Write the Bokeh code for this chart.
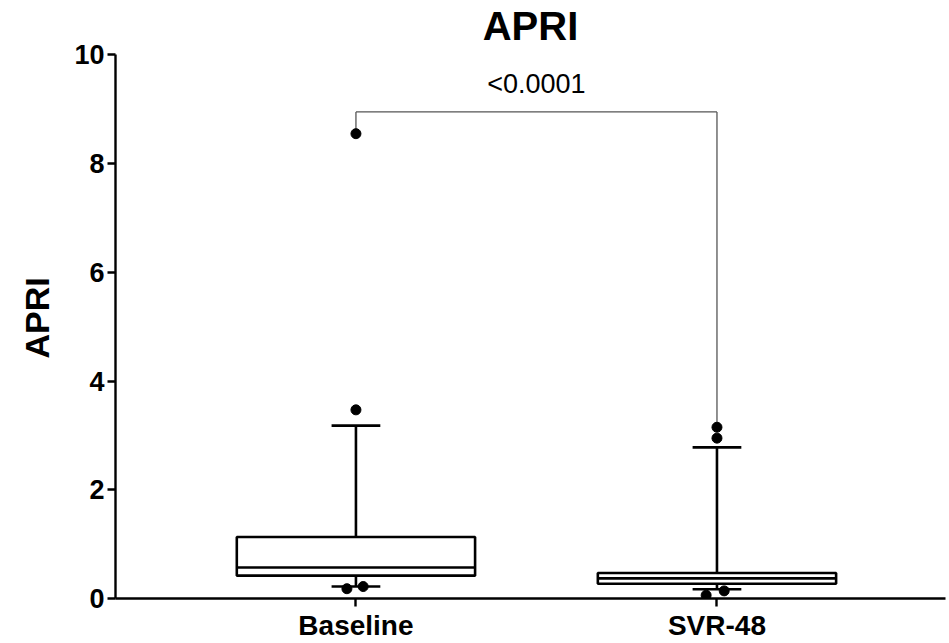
from bokeh.plotting import figure
from bokeh.models import Range1d, FixedTicker, Label, Title
from bokeh.embed import file_html
from bokeh.resources import INLINE

# ---- data ----
categories = ["Baseline", "SVR-48"]
q1 = [0.42, 0.27]
median = [0.57, 0.37]
q3 = [1.13, 0.47]
whisker_low = [0.22, 0.17]
whisker_high = [3.18, 2.78]
# outliers: group index, x jitter, value
outlier_group = [0, 0, 0, 0, 1, 1, 1, 1]
outlier_jitter = [0.0, 0.0, -0.025, 0.02, 0.0, 0.0, 0.02, -0.03]
outlier_value = [8.55, 3.47, 0.18, 0.22, 3.15, 2.95, 0.14, 0.06]
p_value_text = "<0.0001"
bracket_level = 8.95
title_text = "APRI"
y_label = "APRI"
y_ticks = [0, 2, 4, 6, 8, 10]

FONT = "Liberation Sans"

xpos = [i + 1 for i in range(len(categories))]
box_w = 0.66
cap_w = 0.135
X0, X1 = 0.334, 2.633

p = figure(width=949, height=643, output_backend="svg", toolbar_location=None,
           x_range=Range1d(X0, X1), y_range=Range1d(0, 11),
           min_border_left=113, min_border_right=4, min_border_top=0,
           min_border_bottom=45)
p.outline_line_color = None
p.xgrid.visible = False
p.ygrid.visible = False
p.background_fill_color = "white"
p.border_fill_color = "white"

# boxes
p.quad(left=[x - box_w / 2 for x in xpos], right=[x + box_w / 2 for x in xpos],
       bottom=q1, top=q3, fill_color="white", line_color="black", line_width=2.6)
# medians
p.segment(x0=[x - box_w / 2 for x in xpos], x1=[x + box_w / 2 for x in xpos],
          y0=median, y1=median, line_color="black", line_width=2.6)
# whiskers
p.segment(x0=xpos, x1=xpos, y0=q3, y1=whisker_high, line_color="black", line_width=2.6)
p.segment(x0=xpos, x1=xpos, y0=q1, y1=whisker_low, line_color="black", line_width=2.6)
# caps
p.segment(x0=[x - cap_w / 2 for x in xpos], x1=[x + cap_w / 2 for x in xpos],
          y0=whisker_high, y1=whisker_high, line_color="black", line_width=2.6)
p.segment(x0=[x - cap_w / 2 for x in xpos], x1=[x + cap_w / 2 for x in xpos],
          y0=whisker_low, y1=whisker_low, line_color="black", line_width=2.6)

# significance bracket
tops = [max(v for g, v in zip(outlier_group, outlier_value) if g == i) for i in range(len(categories))]
p.segment(x0=[xpos[0], xpos[0], xpos[1]], x1=[xpos[1], xpos[0], xpos[1]],
          y0=[bracket_level, bracket_level, bracket_level],
          y1=[bracket_level, tops[0], tops[1]],
          line_color="#555555", line_width=1.3)

# outlier points
ox = [xpos[g] + j for g, j in zip(outlier_group, outlier_jitter)]
p.scatter(x=ox, y=outlier_value, size=10, color="black")

# texts
p.add_layout(Label(x=(xpos[0] + xpos[1]) / 2, y=bracket_level + 0.24, text=p_value_text,
                   text_align="center", text_baseline="bottom",
                   text_font=FONT, text_font_size="27px", text_color="black"))
p.add_layout(Label(x=(X0 + X1) / 2, y=10.13,
                   text=title_text, text_align="center", text_baseline="bottom",
                   text_font=FONT, text_font_size="40px", text_font_style="bold",
                   text_color="black"))
p.add_layout(Title(text=y_label, align="left", offset=240,
                   text_font=FONT, text_font_size="34px", text_font_style="bold",
                   text_color="black", standoff=31), "left")

# axes
for ax in (p.xaxis[0], p.yaxis[0]):
    ax.axis_line_width = 2.4
    ax.axis_line_color = "black"
    ax.major_tick_line_width = 2.4
    ax.major_tick_line_color = "black"
    ax.minor_tick_line_color = None
    ax.major_tick_in = 0
    ax.major_label_text_font = FONT
    ax.major_label_text_font_style = "bold"
    ax.major_label_text_color = "black"

p.yaxis.bounds = (0, 10)
p.yaxis.ticker = FixedTicker(ticks=y_ticks)
p.yaxis.major_tick_out = 8
p.yaxis.major_label_text_font_size = "27px"
p.yaxis.major_label_standoff = 3

p.xaxis.ticker = FixedTicker(ticks=xpos)
p.xaxis.major_label_overrides = {x: c for x, c in zip(xpos, categories)}
p.xaxis.major_tick_out = 8
p.xaxis.major_label_text_font_size = "28px"
p.xaxis.major_label_standoff = 3

open("out.html", "w").write(file_html(p, INLINE))
